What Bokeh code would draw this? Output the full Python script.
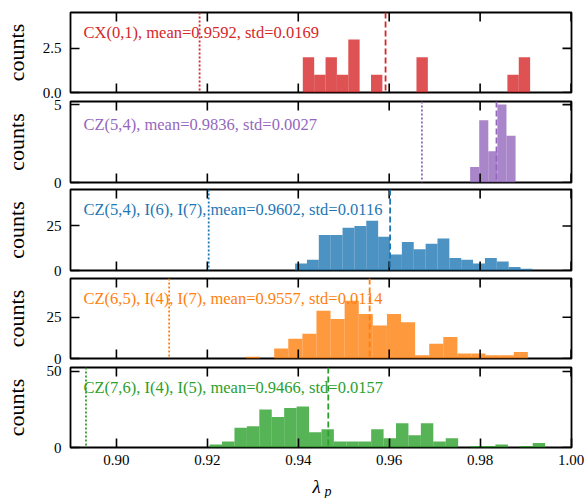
import numpy as np
from bokeh.plotting import figure
from bokeh.models import Range1d, FixedTicker, Label, Span
from bokeh.layouts import column
from bokeh.embed import file_html
from bokeh.resources import INLINE

# ---------------- data ----------------
x_lo, x_hi = 0.8899, 1.0001
x_ticks = [0.90, 0.92, 0.94, 0.96, 0.98, 1.00]
x_tick_labels = ["0.90", "0.92", "0.94", "0.96", "0.98", "1.00"]

gate_names = ["CX(0,1)", "CZ(5,4)", "CZ(5,4), I(6), I(7)",
              "CZ(6,5), I(4), I(7)", "CZ(7,6), I(4), I(5)"]
means = [0.9592, 0.9836, 0.9602, 0.9557, 0.9466]
stds = [0.0169, 0.0027, 0.0116, 0.0114, 0.0157]
thresholds = [0.9183, 0.9672, 0.9203, 0.9116, 0.8933]

cx01_counts = [2, 1, 2, 1, 3, 0, 1, 0, 0, 0, 2, 0, 0, 0, 0, 0, 0, 0, 1, 2]
cx01_range = (0.9410, 0.9910)
cz54_counts = [1, 4, 2, 5, 3]
cz54_range = (0.9778, 0.9878)
cz54_i6_i7_counts = [4, 6, 20, 20, 24, 25, 28, 19, 9, 16, 12, 15, 18, 7, 6, 4, 7, 5, 2, 1]
cz54_i6_i7_range = (0.9393, 0.9915)
cz65_i4_i7_counts = [1, 0, 6, 12, 15, 29, 24, 35, 27, 20, 27, 22, 2, 9, 13, 3, 3, 2, 2, 4]
cz65_i4_i7_range = (0.9285, 0.9905)
cz76_i4_i5_counts = [2, 4, 13, 14, 25, 20, 26, 27, 10, 12, 4, 4, 4, 12, 6, 16, 8, 16, 4, 6,
                     0, 1, 1, 2, 0, 1, 3]
cz76_i4_i5_range = (0.9205, 0.9943)

y_maxes = [4.53, 5.2, 45.5, 48.5, 52.6]
y_ticks = [[0, 2.5], [0, 5], [0, 25], [0, 25], [0, 50]]
y_tick_labels = [["0.0", "2.5"], ["0", "5"], ["0", "25"], ["0", "25"], ["0", "50"]]

colors = ["#d62728", "#9467bd", "#1f77b4", "#ff7f0e", "#2ca02c"]

all_counts = [cx01_counts, cz54_counts, cz54_i6_i7_counts, cz65_i4_i7_counts, cz76_i4_i5_counts]
all_ranges = [cx01_range, cz54_range, cz54_i6_i7_range, cz65_i4_i7_range, cz76_i4_i5_range]

# ---------------- layout ----------------
FONT = "Liberation Serif"
W = 587
tops = [12, 9, 9, 9, 9]
frames = [80, 81, 81, 80, 80]
bottoms = [10, 10, 10, 10, 28]
overlaps = [0, -10, -12, -11, -10]
label_standoffs = [11, 22, 15, 15, 15]
text_y = [60, 58, 61, 60, 60]
TICK = 9


def style_axis(ax):
    ax.major_tick_in = TICK
    ax.major_tick_out = 0
    ax.minor_tick_in = 0
    ax.minor_tick_out = 0
    ax.major_tick_line_width = 1.6
    ax.major_tick_line_color = "black"
    ax.axis_line_color = None
    ax.major_label_text_font = FONT
    ax.major_label_text_font_size = "15px"
    ax.major_label_text_color = "black"


figs = []
for k in range(5):
    counts = all_counts[k]
    lo, hi = all_ranges[k]
    edges = np.linspace(lo, hi, len(counts) + 1)
    ymax = y_maxes[k]
    p = figure(width=W, height=tops[k] + frames[k] + bottoms[k],
               x_range=Range1d(x_lo, x_hi), y_range=Range1d(0, ymax),
               output_backend="svg", toolbar_location=None,
               min_border_left=68, min_border_right=16,
               min_border_top=tops[k], min_border_bottom=bottoms[k],
               margin=(overlaps[k], 0, 0, 0))
    p.grid.visible = False
    p.outline_line_color = "black"
    p.outline_line_width = 1.8
    p.background_fill_color = None
    p.border_fill_color = None

    p.quad(left=edges[:-1], right=edges[1:], top=counts, bottom=0,
           fill_color=colors[k], fill_alpha=0.8, line_color=None)

    p.add_layout(Span(location=means[k], dimension="height", line_color=colors[k],
                      line_width=1.8, line_dash="6 3"))
    p.add_layout(Span(location=thresholds[k], dimension="height", line_color=colors[k],
                      line_width=1.8, line_dash="2 2"))

    txt = f"{gate_names[k]}, mean={means[k]:.4f}, std={stds[k]:.4f}"
    p.add_layout(Label(x=13, y=text_y[k], x_units="screen", y_units="screen", text=txt,
                       text_font=FONT, text_font_size="16.5px", text_color=colors[k],
                       text_baseline="middle", text_align="left"))

    # mirrored inward ticks (top, right, and bottom for the upper panels)
    tick_kw = dict(length=TICK, length_units="screen", angle_units="deg",
                   line_color="black", line_width=1.6)
    p.ray(x=x_ticks, y=[ymax] * len(x_ticks), angle=-90, **tick_kw)
    p.ray(x=[x_hi] * len(y_ticks[k]), y=y_ticks[k], angle=180, **tick_kw)

    if k == 4:
        p.xaxis.ticker = FixedTicker(ticks=x_ticks)
        style_axis(p.xaxis[0])
        p.xaxis.major_label_overrides = {t: s for t, s in zip(x_ticks, x_tick_labels)}
        p.xaxis.major_label_standoff = 7
    else:
        p.xaxis.visible = False
        p.ray(x=x_ticks, y=[0] * len(x_ticks), angle=90, **tick_kw)

    p.yaxis.ticker = FixedTicker(ticks=y_ticks[k])
    style_axis(p.yaxis[0])
    p.yaxis.major_label_overrides = {t: s for t, s in zip(y_ticks[k], y_tick_labels[k])}
    p.yaxis.major_label_standoff = 9
    p.yaxis.axis_label = "counts"
    p.yaxis.axis_label_text_font = FONT
    p.yaxis.axis_label_text_font_size = "22px"
    p.yaxis.axis_label_text_font_style = "normal"
    p.yaxis.axis_label_text_color = "black"
    p.yaxis.axis_label_standoff = label_standoffs[k]
    figs.append(p)

# x-axis title (lambda with subscript p) in a thin strip under the last panel;
# the strip's frame is aligned with the panels' frames (left edge at x=68)
used = sum(t + f + b for t, f, b in zip(tops, frames, bottoms)) + sum(overlaps)
strip_h = 498 - used + 6
q = figure(width=W, height=strip_h, x_range=Range1d(0, 1), y_range=Range1d(0, 1),
           output_backend="svg", toolbar_location=None,
           min_border_left=0, min_border_right=0, min_border_top=0, min_border_bottom=0,
           margin=(-6, 0, 0, 0))
q.axis.visible = False
q.grid.visible = False
q.outline_line_color = None
q.background_fill_color = None
q.border_fill_color = None
q.add_layout(Label(x=246, y=12, x_units="screen", y_units="screen", text="λ",
                   text_font=FONT, text_font_size="19px", text_font_style="italic",
                   text_color="black", text_baseline="middle", text_align="center"))
q.add_layout(Label(x=254, y=7, x_units="screen", y_units="screen", text="p",
                   text_font=FONT, text_font_size="14px", text_font_style="italic",
                   text_color="black", text_baseline="alphabetic", text_align="left"))
figs.append(q)

layout = column(*figs, spacing=0)
open("out.html", "w").write(file_html(layout, INLINE))
